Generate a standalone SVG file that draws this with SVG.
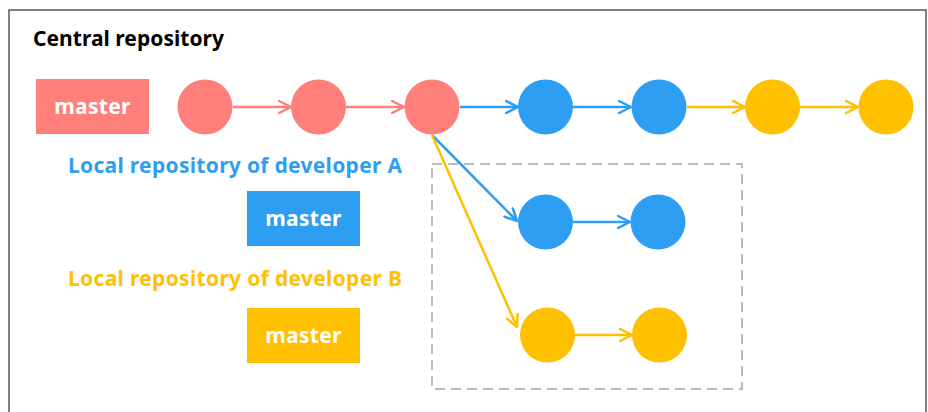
<svg xmlns="http://www.w3.org/2000/svg" width="928" height="412" viewBox="0 0 928 412">
<style>
.t{font-family:"Noto Sans","Open Sans",sans-serif;font-weight:bold}
.m{font-size:21px;fill:#fff;text-anchor:middle;letter-spacing:0.3px}
.red{fill:#FF7F7A}.blue{fill:#2E9EF3}.yel{fill:#FFC000}
.c{stroke-width:2.5;fill:none}
</style>
<defs>
<marker id="ar" viewBox="0 0 14 14" refX="13" refY="7" markerWidth="14" markerHeight="14" markerUnits="userSpaceOnUse" orient="auto">
<path d="M1,1 L13,7 L1,13" fill="none" stroke="#FF7F7A" stroke-width="2.5" stroke-linecap="round" stroke-linejoin="round"/>
</marker>
<marker id="ab" viewBox="0 0 14 14" refX="13" refY="7" markerWidth="14" markerHeight="14" markerUnits="userSpaceOnUse" orient="auto">
<path d="M1,1 L13,7 L1,13" fill="none" stroke="#2E9EF3" stroke-width="2.5" stroke-linecap="round" stroke-linejoin="round"/>
</marker>
<marker id="ay" viewBox="0 0 14 14" refX="13" refY="7" markerWidth="14" markerHeight="14" markerUnits="userSpaceOnUse" orient="auto">
<path d="M1,1 L13,7 L1,13" fill="none" stroke="#FFC000" stroke-width="2.5" stroke-linecap="round" stroke-linejoin="round"/>
</marker>
</defs>
<rect x="0" y="0" width="928" height="412" fill="#fff"/>
<rect x="9" y="10" width="917" height="420" fill="none" stroke="#555" stroke-width="1.5"/>
<rect x="432" y="164" width="310" height="225" fill="none" stroke="#BBBBBB" stroke-width="2" stroke-dasharray="10,6"/>
<text class="t" x="33" y="46" font-size="21" fill="#000" textLength="191" lengthAdjust="spacing">Central repository</text>
<text class="t blue" x="68" y="173" font-size="21" textLength="334" lengthAdjust="spacing">Local repository of developer A</text>
<text class="t yel" x="68" y="286" font-size="21" textLength="334" lengthAdjust="spacing">Local repository of developer B</text>

<g id="connectors">
<line class="c" x1="233" y1="107" x2="291" y2="107" stroke="#FF7F7A" marker-end="url(#ar)"/>
<line class="c" x1="346" y1="107" x2="404" y2="107" stroke="#FF7F7A" marker-end="url(#ar)"/>
<line class="c" x1="460" y1="107" x2="518" y2="107" stroke="#2E9EF3" marker-end="url(#ab)"/>
<line class="c" x1="573" y1="107" x2="631" y2="107" stroke="#2E9EF3" marker-end="url(#ab)"/>
<line class="c" x1="687" y1="107" x2="745" y2="107" stroke="#FFC000" marker-end="url(#ay)"/>
<line class="c" x1="800" y1="107" x2="858" y2="107" stroke="#FFC000" marker-end="url(#ay)"/>
<line class="c" x1="432" y1="135" x2="517" y2="221" stroke="#2E9EF3" marker-end="url(#ab)"/>
<line class="c" x1="432" y1="135" x2="517" y2="327" stroke="#FFC000" marker-end="url(#ay)"/>
<line class="c" x1="573" y1="222" x2="630" y2="222" stroke="#2E9EF3" marker-end="url(#ab)"/>
<line class="c" x1="575" y1="335" x2="632" y2="335" stroke="#FFC000" marker-end="url(#ay)"/>
</g>

<g id="master-central"><rect class="red" x="36" y="79" width="113" height="55"/><text class="t m" x="92.5" y="114">master</text></g>
<g id="master-a"><rect class="blue" x="247" y="191" width="113" height="55"/><text class="t m" x="303.5" y="226">master</text></g>
<g id="master-b"><rect class="yel" x="247" y="308" width="113" height="55"/><text class="t m" x="303.5" y="343">master</text></g>

<g id="c1"><circle class="red" cx="205" cy="107" r="27.5"/></g>
<g id="c2"><circle class="red" cx="318.5" cy="107" r="27.5"/></g>
<g id="c3"><circle class="red" cx="432" cy="107" r="27.5"/></g>
<g id="c4"><circle class="blue" cx="545.5" cy="107" r="27.5"/></g>
<g id="c5"><circle class="blue" cx="659" cy="107" r="27.5"/></g>
<g id="c6"><circle class="yel" cx="772.5" cy="107" r="27.5"/></g>
<g id="c7"><circle class="yel" cx="886" cy="107" r="27.5"/></g>
<g id="a1"><circle class="blue" cx="545.5" cy="222" r="27.5"/></g>
<g id="a2"><circle class="blue" cx="658" cy="222" r="27.5"/></g>
<g id="b1"><circle class="yel" cx="547.5" cy="335" r="27.5"/></g>
<g id="b2"><circle class="yel" cx="659.5" cy="335" r="27.5"/></g>
</svg>
